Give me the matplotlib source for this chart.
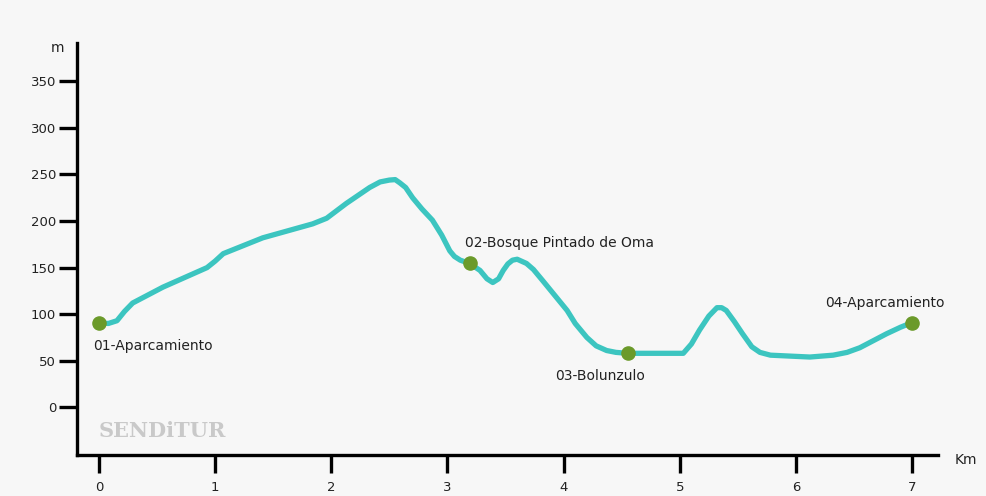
import matplotlib.pyplot as plt

# Elevation profile (km, m)
dist = [0.0, 0.08, 0.155, 0.22, 0.29, 0.55, 0.93, 1.0, 1.07, 1.41, 1.84, 1.96, 2.13,
        2.33, 2.42, 2.50, 2.55, 2.59, 2.64, 2.70, 2.78, 2.87, 2.95, 3.02, 3.06, 3.11,
        3.19, 3.28, 3.34, 3.39, 3.44, 3.48, 3.52, 3.56, 3.60, 3.68, 3.74, 3.82, 4.03,
        4.10, 4.20, 4.28, 4.37, 4.45, 4.55, 4.83, 5.03, 5.10, 5.17, 5.25, 5.32, 5.36,
        5.40, 5.47, 5.54, 5.62, 5.69, 5.78, 6.12, 6.32, 6.44, 6.55, 6.78, 6.90, 7.0]
elev = [91, 90, 93, 103, 112, 129, 150, 157, 165, 182, 197, 203, 219,
        236, 242, 244, 244.5, 241, 236, 225, 213, 201, 185, 168, 162, 158,
        154.5, 147, 138, 134, 138, 147, 154, 158, 159, 154.5, 148, 136, 104,
        90, 75, 66, 61, 59, 58, 58, 58, 68, 83, 98, 107, 107,
        104, 92, 79, 65, 59, 56, 54, 56, 59, 64, 79, 86, 91]

# Waypoints
wp_names = ["01-Aparcamiento", "02-Bosque Pintado de Oma", "03-Bolunzulo", "04-Aparcamiento"]
wp_x = [0.0, 3.19, 4.55, 7.0]
wp_y = [91, 154.5, 58, 91]
label_x = [-0.05, 3.15, 3.93, 6.25]
label_y = [66, 176, 34, 112]

xticks = [0, 1, 2, 3, 4, 5, 6, 7]
yticks = [0, 50, 100, 150, 200, 250, 300, 350]

bg = '#f7f7f7'
fig = plt.figure(figsize=(9.86, 4.96), dpi=100, facecolor=bg)
ax = fig.add_axes([0.078, 0.083, 0.873, 0.830])
ax.set_facecolor(bg)

ax.plot(dist, elev, color='#3cc5c0', lw=3.8, solid_capstyle='round',
        solid_joinstyle='round', zorder=3)
ax.scatter(wp_x, wp_y, s=90, color='#6b9a2a', zorder=4)

for name, lx, ly in zip(wp_names, label_x, label_y):
    ax.text(lx, ly, name, fontsize=10, color='#222222', ha='left', va='center', zorder=5)

# watermark
ax.text(0.0, -25, "SENDiTUR", fontsize=15, fontweight='bold', family='DejaVu Serif',
        color='#c9c9c9', ha='left', va='center', zorder=1)

ax.set_xlim(-0.19, 7.22)
ax.set_ylim(-51, 391)
ax.set_xticks(xticks)
ax.set_yticks(yticks)
ax.set_xticklabels([str(t) for t in xticks])
ax.set_yticklabels([str(t) for t in yticks])

for s in ['top', 'right']:
    ax.spines[s].set_visible(False)
for s in ['left', 'bottom']:
    ax.spines[s].set_linewidth(2.4)
    ax.spines[s].set_color('black')

ax.tick_params(axis='both', direction='out', length=13, width=2.4, color='black',
               labelsize=9.5, labelcolor='#222222')
ax.tick_params(axis='y', pad=2)
ax.tick_params(axis='x', pad=6)

ax.text(-0.015, 0.988, "m", transform=ax.transAxes, ha='right', va='center',
        fontsize=10, color='#222222')
ax.text(1.02, -0.012, "Km", transform=ax.transAxes, ha='left', va='center',
        fontsize=10, color='#222222')

fig.savefig('out.png', dpi=100, facecolor=bg)
